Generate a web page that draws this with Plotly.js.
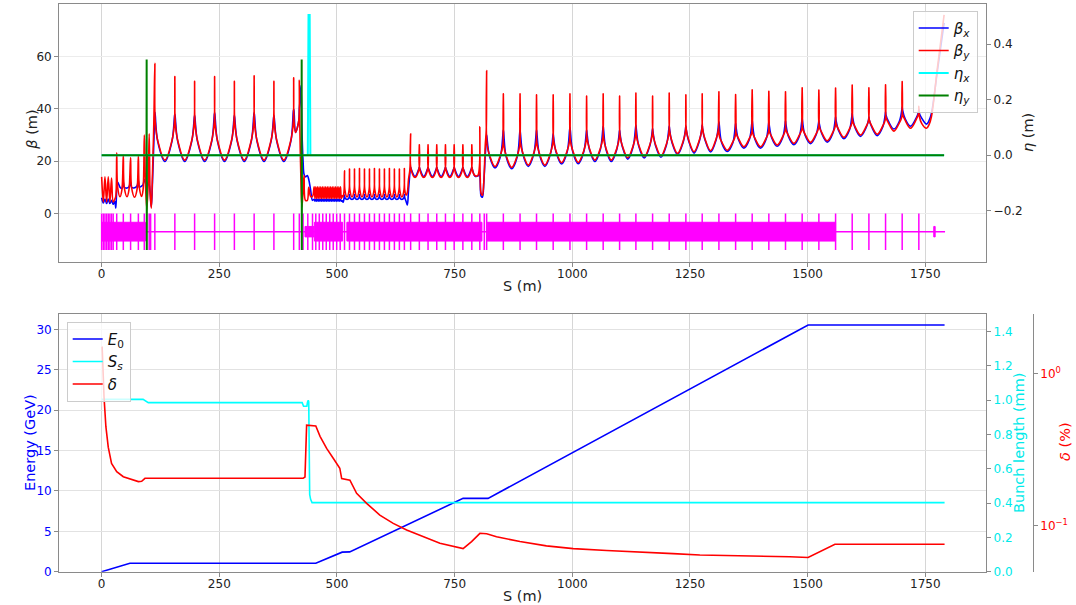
<!DOCTYPE html>
<html><head><meta charset="utf-8">
<script src="https://cdn.plot.ly/plotly-3.0.1.min.js"></script>
<style>html,body{margin:0;padding:0;background:#fff}#chart{width:1076px;height:605px}</style>
</head><body><div id="chart"></div>
<script>
// ---------- TOP PANEL DATA (beta functions, m) ----------
const s1 = [0,3.5,7,10.5,14,17.5,21,24.5,28,30,32,34,39,43,46,48,54,58,61.5,63.5,70,75,78,80,85,88,90.6,93,96,99,101,103,105.5,108,111];
const by1 = [14,4.4,14,4.3,14,4.3,13.5,4.4,5.5,6.5,23.2,10,6.4,9,22.3,10,6.4,9,21.4,10,6.2,9,22,10,6.5,9,30,12,1.5,12,30.5,8,2,15,36];
const bx1 = [6,4,5.5,3.8,5.5,3.8,5,3.5,4.5,2,9,12,10,9.5,12,10,9.7,10.2,12,10,9.8,10.5,12.5,10,10.5,11,13,12,10,12,11,8,2.5,12,28];

const s2 = [113,113.8,119,134.3,149.5,154.7, 155.5,156.3,161.5,176.5,191.5,196.7, 197.5,198.3,203.5,218.8,234,239.2, 240,240.8,246,261,276,281.2, 282,282.8,288,303,318,323.2, 324,324.8,330,345,360,365.2, 366,366.8,372,387,402,407.2, 408];
const by2 = [57.5,35,28,20.4,28,35, 52.4,35,28,20.4,28,35, 50.6,35,28,20.4,28,35, 52.4,35,28,20.4,28,35, 50.6,35,28,20.4,28,35, 52.7,35,28,20.4,28,35, 50.6,35,28,20.4,28,35, 51.9];
const bx2 = [38.7,37.7,27.7,19.9,27.7,37, 38,37,27.7,19.9,27.7,36.5, 37.5,36.5,27.7,19.9,27.7,37.5, 38.5,37.5,27.7,19.9,27.7,36.5, 37.5,36.5,27.7,19.9,27.7,37.5, 38.5,37.5,27.7,19.9,27.7,36.5, 37.5,36.5,27.7,19.9,27.7,39, 40];

const s23 = [408.8,412,416,419.2,420,421,423.5,425.5,428,430,433,437,440,444,448];
const by23 = [35,31,33,36,51,34,12,2.4,9,14.5,5,5,10,6.5,6.5];
const bx23 = [39,31,33,36,40,42,49,32,20,15,14,14.5,13,9,5];

const s3a = [451.5,453.2,455,456.7,458.5,460.2,462,463.7,465.5,467.2,469,470.7,472.5,474.2,476,477.7,479.5,481.2,483,484.7,486.5,488.2,490,491.7,493.5,495.2,497,498.7,500.5,502.2,504,505.7,507.5,509.2,511,513,515.2];
const by3a = [10.2,5.7,10.2,5.7,10.2,5.7,10.2,5.7,10.2,5.7,10.2,5.7,10.2,5.7,10.2,5.7,10.2,5.7,10.2,5.7,10.2,5.7,10.2,5.7,10.2,5.7,10.2,5.7,10.2,5.7,10.2,5.7,10.2,5.7,6.8,6.3,9];
const bx3a = [5.4,4.7,5.4,4.7,5.4,4.7,5.4,4.7,5.4,4.7,5.4,4.7,5.4,4.7,5.4,4.7,5.4,4.7,5.4,4.7,5.4,4.7,5.4,4.7,5.4,4.7,5.4,4.7,5.4,4.7,5.4,4.7,5.4,4.7,4.8,4.3,6];

const s3b = [516,516.8,521.3,525.8, 526.6,527.4,531.9,536.4, 537.2,538,542.5,547, 547.8,548.6,553.1,557.6, 558.4,559.2,563.7,568.2, 569,569.8,574.3,578.8, 579.6,580.4,584.9,589.4, 590.2,591,595.5,600, 600.8,601.6,606.1,610.6, 611.4,612.2,616.7,621.2, 622,622.8,627.3,631.8, 632.6,633.4,637.9,642.4, 643.2];
const by3b = [16.3,9,6.3,9, 17,9,6.3,9, 17,9,6.3,9, 17.2,9,6.3,9, 17,9,6.3,9, 17,9,6.3,9, 17.2,9,6.3,9, 17,9,6.3,9, 17,9,6.3,9, 17.2,9,6.3,9, 17,9,6.3,9, 17,9,6.3,9, 17.2];
const bx3b = [7,6,5.3,6, 7.2,6,5.3,6, 7.2,6,5.3,6, 7.2,6,5.3,6, 7.2,6,5.3,6, 7.2,6,5.3,6, 7.2,6,5.3,6, 7.2,6,5.3,6, 7.2,6,5.3,6, 7.2,6,5.3,6, 7.2,6,5.3,6, 7.2,6,5.3,6, 7.2];

const s34 = [644,647,649.5,652,655];
const by34 = [9,7,8,13,17];
const bx34 = [6,4.5,3.2,9,15.5];

const s4 = [656.5,657.3,665.8,674.2, 675,675.8,684.3,692.7, 693.5,694.3,702.8,711.2, 712,712.8,721.3,729.7, 730.5,731.3,739.8,748.2, 749,749.8,758.3,766.7, 767.5,768.3,777,785.7, 786.5];
const by4 = [30.5,17,13.8,17, 26.3,17,13.8,17, 26.3,17,13.8,17, 26.3,17,13.8,17, 26.3,17,13.8,17, 26.3,17,13.8,17, 26.3,17,13.8,17, 26.3];
const bx4 = [17.7,17.2,14.1,17.2, 17.7,17.2,14.1,17.2, 17.7,17.2,14.1,17.2, 17.7,17.2,14.1,17.2, 17.7,17.2,14.1,17.2, 17.7,17.2,14.1,17.2, 17.7,17.2,14.1,17.2, 17.7];

const s45 = [787.3,793,799,802.7,803.5,804.3,806.5,809,812,815,817.2];
const by45 = [17,14.5,14.5,18,33.2,14,7.5,7,12,26,32];
const bx45 = [17.2,14.3,14.3,15,15.5,12,6.5,6.2,12,22,28];

const s5 = [
818,818.8,824,835.8,847.5,852.7,
853.5,854.3,859.5,871.3,883,888.2,
889,889.8,895,906.5,918,923.2,
924,924.8,930,941.7,953.4,958.6,
959.4,960.2,965.4,977.2,989,994.2,
995,995.8,1001,1012.7,1024.4,1029.6,
1030.4,1031.2,1036.4,1048,1059.6,1064.8,
1065.6,1066.4,1071.6,1083,1094.5,1099.7,
1100.5,1101.3,1106.5,1117.8,1129.1,1134.3,
1135.1,1135.9,1141.1,1152.9,1164.6,1169.8,
1170.6,1171.4,1176.6,1188.3,1199.9,1205.1,
1205.9,1206.7,1211.9,1223.6,1235.3,1240.5,
1241.3,1242.1,1247.3,1258.7,1270,1275.2,
1276,1276.8,1282,1293.8,1305.5,1310.7,
1311.5,1312.3,1317.5,1329.3,1341,1346.2,
1347,1347.8,1353,1364.6,1376.2,1381.4,
1382.2,1383,1388.2,1399.9,1411.6,1416.8,
1417.6,1418.4,1423.6,1435.3,1447,1452.2,
1453,1453.8,1459,1470.7,1482.4,1487.6,
1488.4,1489.2,1494.4,1506.2,1517.9,1523.1,
1523.9,1524.7,1529.9,1541.7,1553.4,1558.6,
1559.4,1560.2,1565.4,1577,1588.7,1593.9,
1594.7,1595.5,1600.7,1612.4,1624.2,1629.4,
1630.2,1631,1636.2,1647.9,1659.6,1664.8,
1665.6,1666.4,1671.6,1683.3,1694.9,1700.1,
1700.9,1701.7,1706.9,1718.6,1730.3,1735.5,
1736.3];
const by5 = [
54.7,26.4,22.4,17.9,22.4,26.4,
45.8,26.1,22.1,17.6,22.1,26.1,
45.8,27,23,18.5,23,27,
45.4,27,23,18.5,23,27,
45.4,27.9,23.9,19.4,23.9,27.9,
45.8,28,24,19.5,24,28,
44.9,28.9,24.9,20.4,24.9,28.9,
45.8,28.9,24.9,20.4,24.9,28.9,
44.9,29.8,25.8,21.3,25.8,29.8,
46.1,30.2,26.2,21.7,26.2,30.2,
44.9,30.5,26.5,22,26.5,30.5,
46.1,31.5,27.5,23,27.5,31.5,
45.4,32.1,28.1,23.6,28.1,32.1,
45.8,32.5,28.5,24,28.5,32.5,
46.6,29.7,27.4,24.2,27.4,29.7,
45.5,31,28.7,25.5,28.7,31,
47.3,31,28.7,25.5,28.7,31,
46.8,31.7,29.4,26.2,29.4,31.7,
46.6,32.3,30,26.8,30,32.3,
48.1,32.7,30.4,27.2,30.4,32.7,
47.2,33.3,31,27.8,31,33.3,
48,34.6,32.3,29.1,32.3,34.6,
49.2,35.5,33.2,30,33.2,35.5,
48.1,35.8,33.5,30.3,33.5,35.8,
49.3,37,34.7,31.5,34.7,37,
50.5,38.1,35.8,32.6,35.8,38.1,
41];
const bx5 = [
30,28.8,22,17.4,22,30.7,
31.9,30.7,21.7,17.1,21.7,30.7,
31.9,30.7,22.6,18,22.6,30.7,
31.9,30.7,22.6,18,22.6,29.3,
30.5,29.3,23.5,18.9,23.5,31.8,
33,31.8,23.6,19,23.6,30.7,
31.9,30.7,24.5,19.9,24.5,32.2,
33.4,32.2,24.5,19.9,24.5,30.7,
31.9,30.7,25.4,20.8,25.4,32.6,
33.8,32.6,25.8,21.2,25.8,31.3,
32.5,31.3,26.1,21.5,26.1,32.3,
33.5,32.3,27.1,22.5,27.1,32.2,
33.4,32.2,27.7,23.1,27.7,32.6,
33.8,32.6,28.1,23.5,28.1,33.9,
35.1,33.9,27,23.7,27,33.3,
34.5,33.3,28.3,25,28.3,34.5,
35.7,34.5,28.3,25,28.3,33.9,
35.1,33.9,29,25.7,29,34.3,
35.5,34.3,29.6,26.3,29.6,35.2,
36.4,35.2,30,26.7,30,34.5,
35.7,34.5,30.6,27.3,30.6,35.8,
37,35.8,31.9,28.6,31.9,37.1,
38.3,37.1,32.8,29.5,32.8,35.8,
37,35.8,33.1,29.8,33.1,37.7,
38.9,37.7,35.3,32.3,35.3,39.6,
40.8,39.6,36.4,33.4,36.4,38.8,
40];

const s6 = [1737.1,1742.3,1752.6,1758,1763,1776,1790];
const by6 = [37.5,34.5,32.6,34,37,56,76];
const bx6 = [38.5,36.5,34.2,35.5,38.3,55,73];

// dispersion (m)
const sEtaX = [0,438,439.5,442,443.5,1790];
const etaX  = [0,0,0.505,0.505,0,0];
const sEtaY = [0,95.3,95.6,95.9,96.2,424.7,425,425.3,425.6,1790];
const etaY  = [0,0,0.345,-0.342,0,0,0.345,-0.342,0,0];

// lattice layout (element positions, m)
const quadS = [0,3.5,7,10.5,14,17.5,21,24.5,32,46,61.5,78,90.6,101,104,113,155.5,197.5,240,282,324,366,408,420,428,438,448,
  455,462.4,469.8,477.2,484.6,492,499.4,506.8,
  516,526.6,537.2,547.8,558.4,569,579.6,590.2,600.8,611.4,622,632.6,643.2,
  656.5,675,693.5,712,730.5,749,767.5,786.5,803.5,813,
  818,853.5,889,924,959.4,995,1030.4,1065.6,1100.5,1135.1,1170.6,1205.9,1241.3,1276,1311.5,1347,1382.2,1417.6,1453,1488.4,1523.9,1559.4,1594.7,1630.2,1665.6,1700.9,1736.3];
const cavStart = [0,452,521,819];
const cavEnd   = [93,512,808,1559.4];
const smallStart = [432,1768];
const smallEnd   = [451,1771];
const latticeSpan = [0,1792];

// ---------- BOTTOM PANEL DATA ----------
const sE = [0,60,455,511,527,768,821,1501,1791];
const energy = [0,1.04,1.04,2.42,2.45,9.08,9.08,30.53,30.53];
const sBL = [0,88,99,426,429,436,437.5,439,440,442,444,447,1791];
const bunchLen = [1.005,1.005,0.986,0.986,0.965,0.965,0.99,1.0,0.99,0.45,0.422,0.403,0.403];
const sD = [0,1,2,5,9,14,21,32,46,67,78,85,92,428,432,435.5,455,464,478,492,506,510,527.5,541.7,563,591,619.5,648,683,718.7,768,786,803.7,818,839,888.7,945,1002,1073,1143.6,1214,1271,1356,1462,1501,1558,1791];
const delta = [1.51,1.5,1.27,0.71,0.45,0.33,0.258,0.228,0.211,0.201,0.196,0.197,0.206,0.206,0.21,0.461,0.455,0.389,0.324,0.279,0.24,0.205,0.2,0.164,0.141,0.118,0.104,0.094,0.085,0.077,0.071,0.079,0.0895,0.089,0.085,0.079,0.074,0.071,0.069,0.067,0.0658,0.0644,0.0638,0.0628,0.062,0.0758,0.0758];

const xTicks = [0,250,500,750,1000,1250,1500,1750];

// ---------- assemble ----------
const sBeta = [].concat(s1,s2,s23,s3a,s3b,s34,s4,s45,s5,s6);
const betaX = [].concat(bx1,bx2,bx23,bx3a,bx3b,bx34,bx4,bx45,bx5,bx6);
const betaY = [].concat(by1,by2,by23,by3a,by3b,by34,by4,by45,by5,by6);
if (sBeta.length!==betaX.length || sBeta.length!==betaY.length) console.error('len mismatch', sBeta.length, betaX.length, betaY.length);

const BASE = -7, QH = 7, CH = 3.6, SH = 2;
const qx=[], qy=[];
quadS.forEach(q=>{qx.push(q,q,null); qy.push(BASE+QH,BASE-QH,null);});
const bxs=[], bys=[];
function boxes(a,b,h){a.forEach((st,i)=>{const en=b[i]; bxs.push(st,en,en,st,st,null); bys.push(BASE+h,BASE+h,BASE-h,BASE-h,BASE+h,null);});}
boxes(cavStart,cavEnd,CH);
boxes(smallStart,smallEnd,SH);

const FONT = 'DejaVu Sans, Liberation Sans, sans-serif';
const traces = [
  {x:latticeSpan, y:[BASE,BASE], mode:'lines', line:{color:'#ff00ff',width:1.5}, showlegend:false, xaxis:'x', yaxis:'y'},
  {x:bxs, y:bys, mode:'lines', fill:'toself', fillcolor:'#ff00ff', line:{color:'#ff00ff',width:1}, showlegend:false, xaxis:'x', yaxis:'y'},
  {x:qx, y:qy, mode:'lines', line:{color:'#ff00ff',width:1.5}, showlegend:false, xaxis:'x', yaxis:'y'},
  {x:sBeta, y:betaX, mode:'lines', name:'<i>β</i><sub><i>x</i></sub>', line:{color:'#0000ff',width:1.6,shape:'spline',smoothing:1}, xaxis:'x', yaxis:'y', legend:'legend', legendgroup:'a'},
  {x:sBeta, y:betaY, mode:'lines', name:'<i>β</i><sub><i>y</i></sub>', line:{color:'#ff0000',width:1.6,shape:'spline',smoothing:1}, xaxis:'x', yaxis:'y', legend:'legend', legendgroup:'b'},
  {x:sEtaX, y:etaX, mode:'lines', name:'<i>η</i><sub><i>x</i></sub>', line:{color:'#00ffff',width:2}, xaxis:'x', yaxis:'y2', legend:'legend', legendgroup:'c'},
  {x:sEtaY, y:etaY, mode:'lines', name:'<i>η</i><sub><i>y</i></sub>', line:{color:'#008000',width:2}, xaxis:'x', yaxis:'y2', legend:'legend', legendgroup:'d'},
  {x:sE, y:energy, mode:'lines', name:'<i>E</i><sub>0</sub>', line:{color:'#0000ff',width:1.6}, xaxis:'x2', yaxis:'y3', legend:'legend2', legendgroup:'e'},
  {x:sBL, y:bunchLen, mode:'lines', name:'<i>S</i><sub><i>s</i></sub>', line:{color:'#00ffff',width:1.6}, xaxis:'x2', yaxis:'y4', legend:'legend2', legendgroup:'f'},
  {x:sD, y:delta, mode:'lines', name:'<i>δ</i>', line:{color:'#ff0000',width:1.6}, xaxis:'x2', yaxis:'y5', legend:'legend2', legendgroup:'g'}
];

const W=1076, H=605;
const xDom = [59.3/W, 986/W];
const topDom = [1-261.7/H, 1-4/H];
const botDom = [1-571.7/H, 1-314/H];
const axisLine = '#8a8a8a';
const tickFont = {family:FONT, size:12, color:'#222'};
const CYAN_TXT = '#00eaea';
const common = {showline:true, linecolor:axisLine, linewidth:1.2, ticks:'outside', ticklen:4, tickcolor:axisLine, zeroline:false, automargin:false};

function ann(text, px, py, color, rot){
  return {text:text, xref:'paper', yref:'paper', x:px/W, y:1-py/H, xanchor:'center', yanchor:'middle', showarrow:false, textangle:rot||0, font:{family:FONT, size:14.5, color:color}};
}

const layout = {
  width:W, height:H, margin:{l:0,r:0,t:0,b:0}, paper_bgcolor:'#fff', plot_bgcolor:'#fff',
  font:{family:FONT, color:'#222'}, hovermode:false,
  xaxis: Object.assign({}, common, {domain:xDom, anchor:'y', range:[-90,1879], mirror:true, tickvals:xTicks, showgrid:true, gridcolor:'#d6d6d6', gridwidth:1, tickfont:tickFont, ticklabelstandoff:-3}),
  yaxis: Object.assign({}, common, {domain:topDom, anchor:'x', range:[-18.5,80.2], tickvals:[0,20,40,60], showgrid:true, gridcolor:'#ececec', tickfont:tickFont}),
  yaxis2: Object.assign({}, common, {overlaying:'y', anchor:'x', side:'right', range:[-0.384,0.545], tickvals:[-0.2,0,0.2,0.4], tickformat:'.1f', showgrid:false, tickfont:tickFont}),
  xaxis2: Object.assign({}, common, {domain:xDom, anchor:'y3', range:[-90,1879], mirror:true, tickvals:xTicks, showgrid:true, gridcolor:'#d6d6d6', tickfont:tickFont, ticklabelstandoff:-3}),
  yaxis3: Object.assign({}, common, {domain:botDom, anchor:'x2', range:[0,31.9], tickvals:[0,5,10,15,20,25,30], showgrid:true, gridcolor:'#e2e2e2', tickfont:{family:FONT,size:12,color:'#0000ff'}}),
  yaxis4: Object.assign({}, common, {overlaying:'y3', anchor:'x2', side:'right', range:[0,1.503], tickvals:[0,0.2,0.4,0.6,0.8,1.0,1.2,1.4], tickformat:'.1f', showgrid:false, tickfont:{family:FONT,size:12,color:CYAN_TXT}}),
  yaxis5: Object.assign({}, common, {overlaying:'y3', anchor:'free', position:1032.7/W, side:'right', type:'log', range:[-1.3007,0.3947], tickvals:[0.1,1], ticktext:['10<sup>−1</sup>','10<sup>0</sup>'], showgrid:false, tickfont:{family:FONT,size:12,color:'#ff0000'}}),
  legend: {x:912.7/W, y:1-10.7/H, xanchor:'left', yanchor:'top', bgcolor:'rgba(255,255,255,0.8)', bordercolor:'#cccccc', borderwidth:1, font:{family:FONT,size:15,color:'#111'}, tracegroupgap:0, traceorder:'grouped'},
  legend2: {x:66.7/W, y:1-321.7/H, xanchor:'left', yanchor:'top', bgcolor:'rgba(255,255,255,0.8)', bordercolor:'#cccccc', borderwidth:1, font:{family:FONT,size:15,color:'#111'}, tracegroupgap:0, traceorder:'grouped'},
  annotations: [
    ann('<i>β</i> (m)', 31.7, 130, '#222', -90),
    ann('<i>η</i> (m)', 1028, 133, '#222', -90),
    ann('S (m)', 522.7, 286, '#222', 0),
    ann('S (m)', 522.7, 596, '#222', 0),
    ann('Energy (GeV)', 30, 443, '#0000ff', -90),
    ann('Bunch length (mm)', 1019, 443, CYAN_TXT, -90),
    ann('<i>δ</i> (%)', 1065, 442, '#ff0000', -90)
  ]
};

Plotly.newPlot('chart', traces, layout, {staticPlot:true, displayModeBar:false});
</script></body></html>
